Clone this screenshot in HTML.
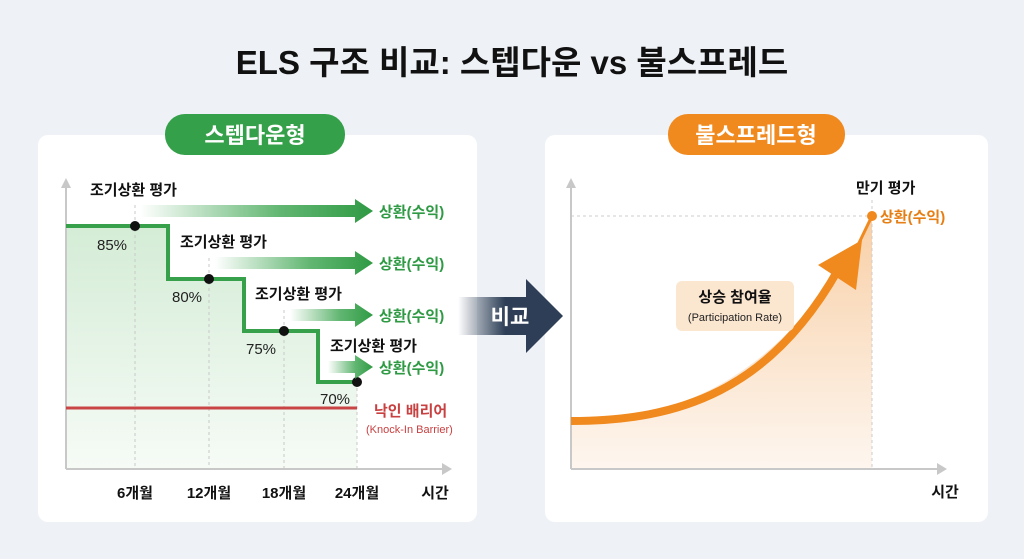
<!DOCTYPE html>
<html><head><meta charset="utf-8"><style>
html,body{margin:0;padding:0;background:#eef1f5;}
svg{display:block;font-family:"Liberation Sans","Noto Sans CJK KR",sans-serif;}
</style></head><body>
<svg width="1024" height="559" viewBox="0 0 1024 559" xmlns="http://www.w3.org/2000/svg">
<defs>
<linearGradient id="gfill" x1="0" y1="0" x2="0" y2="1"><stop offset="0" stop-color="#d4ecd6"/><stop offset="1" stop-color="#f6fbf6"/></linearGradient>
<linearGradient id="garr" x1="0" y1="0" x2="1" y2="0"><stop offset="0" stop-color="#3aa44e" stop-opacity="0"/><stop offset="0.6" stop-color="#3aa44e" stop-opacity="0.8"/><stop offset="1" stop-color="#2f9a44"/></linearGradient>
<linearGradient id="gnavy" x1="0" y1="0" x2="1" y2="0"><stop offset="0" stop-color="#2d3e56" stop-opacity="0"/><stop offset="0.45" stop-color="#2d3e56"/><stop offset="1" stop-color="#2d3e56"/></linearGradient>
<linearGradient id="gor" x1="0" y1="0" x2="0" y2="1"><stop offset="0" stop-color="#f6c08a"/><stop offset="1" stop-color="#fdf3ea"/></linearGradient>
</defs>
<rect width="1024" height="559" fill="#eef1f5"/>
<text x="512" y="74" text-anchor="middle" font-size="33" font-weight="bold" fill="#111">ELS 구조 비교: 스텝다운 vs 불스프레드</text>

<!-- left panel -->
<rect x="38" y="135" width="439" height="387" rx="10" fill="#fff"/>
<rect x="165" y="114" width="180" height="41" rx="20" fill="#35a04a"/>
<text x="255" y="143" text-anchor="middle" font-size="22" font-weight="bold" fill="#fff">스텝다운형</text>
<path d="M66 226 H168 V279 H244 V331 H318 V382 H357 V469 H66Z" fill="url(#gfill)"/>
<g stroke="#c8c8c8" stroke-dasharray="3 3" stroke-width="1">
<line x1="135" y1="205" x2="135" y2="469"/><line x1="209" y1="258" x2="209" y2="469"/><line x1="284" y1="310" x2="284" y2="469"/><line x1="357" y1="382" x2="357" y2="469"/></g>
<line x1="66" y1="469" x2="66" y2="183" stroke="#c8c8c8" stroke-width="2"/><path d="M61 188 L66 178 L71 188Z" fill="#c8c8c8"/>
<line x1="66" y1="469" x2="445" y2="469" stroke="#c8c8c8" stroke-width="2"/><path d="M442 463 L452 469 L442 475Z" fill="#c8c8c8"/>
<path d="M66 226 H168 V279 H244 V331 H318 V382 H357" fill="none" stroke="#36a04b" stroke-width="4"/>
<line x1="66" y1="408" x2="357" y2="408" stroke="#c94545" stroke-width="3"/>
<g fill="#111"><circle cx="135" cy="226" r="5"/><circle cx="209" cy="279" r="5"/><circle cx="284" cy="331" r="5"/><circle cx="357" cy="382" r="5"/></g>
<g fill="url(#garr)">
<path d="M140 205 H355 V199 L373 211 L355 223 V217 H140Z"/>
<path d="M215 257 H355 V251 L373 263 L355 275 V269 H215Z"/>
<path d="M290 309 H355 V303 L373 315 L355 327 V321 H290Z"/>
<path d="M328 361 H355 V355 L373 367 L355 379 V373 H328Z"/>
</g>
<g font-size="15" font-weight="bold" fill="#111">
<text x="90" y="195">조기상환 평가</text><text x="180" y="247">조기상환 평가</text><text x="255" y="299">조기상환 평가</text><text x="330" y="351">조기상환 평가</text></g>
<g font-size="15" fill="#222">
<text x="97" y="250">85%</text><text x="172" y="302">80%</text><text x="246" y="354">75%</text><text x="320" y="404">70%</text></g>
<g font-size="15" font-weight="bold" fill="#2f9a44">
<text x="379" y="217">상환(수익)</text><text x="379" y="269">상환(수익)</text><text x="379" y="321">상환(수익)</text><text x="379" y="373">상환(수익)</text></g>
<text x="374" y="416" font-size="15" font-weight="bold" fill="#c94040">낙인 배리어</text>
<text x="366" y="433" font-size="11" fill="#c94040">(Knock-In Barrier)</text>
<g font-size="15" font-weight="bold" fill="#111" text-anchor="middle">
<text x="135" y="498">6개월</text><text x="209" y="498">12개월</text><text x="284" y="498">18개월</text><text x="357" y="498">24개월</text><text x="435" y="498">시간</text></g>

<!-- right panel -->
<rect x="545" y="135" width="443" height="387" rx="10" fill="#fff"/>
<rect x="668" y="114" width="177" height="41" rx="20" fill="#f0891e"/>
<text x="756" y="143" text-anchor="middle" font-size="22" font-weight="bold" fill="#fff">불스프레드형</text>
<path d="M571 420 C680 420 770 380 858 245 L872 216 V469 H571Z" fill="url(#gor)" opacity="0.75"/>
<line x1="571" y1="216" x2="872" y2="216" stroke="#ccc" stroke-dasharray="3 3"/>
<line x1="872" y1="200" x2="872" y2="469" stroke="#ccc" stroke-dasharray="3 3"/>
<line x1="571" y1="469" x2="571" y2="183" stroke="#c8c8c8" stroke-width="2"/><path d="M566 188 L571 178 L576 188Z" fill="#c8c8c8"/>
<line x1="571" y1="469" x2="940" y2="469" stroke="#c8c8c8" stroke-width="2"/><path d="M937 463 L947 469 L937 475Z" fill="#c8c8c8"/>
<path d="M571 421 C680 421 770 390 838 270" fill="none" stroke="#f0891e" stroke-width="8"/>
<path d="M818 265 L862 240 L856 290Z" fill="#f0891e"/>
<line x1="858" y1="245" x2="872" y2="216" stroke="#f0891e" stroke-width="3"/>
<circle cx="872" cy="216" r="5" fill="#f0891e"/>
<text x="856" y="193" font-size="15" font-weight="bold" fill="#111">만기 평가</text>
<text x="880" y="222" font-size="15" font-weight="bold" fill="#e67e14">상환(수익)</text>
<rect x="676" y="281" width="118" height="50" rx="6" fill="#fbe6d0"/>
<text x="735" y="302" text-anchor="middle" font-size="15" font-weight="bold" fill="#111">상승 참여율</text>
<text x="735" y="321" text-anchor="middle" font-size="11" fill="#222">(Participation Rate)</text>
<text x="945" y="497" text-anchor="middle" font-size="15" font-weight="bold" fill="#111">시간</text>

<!-- compare arrow (on top) -->
<path d="M458 297 H526 V279 L563 316 L526 353 V335 H458Z" fill="url(#gnavy)"/>
<text x="510" y="324" text-anchor="middle" font-size="21" font-weight="bold" fill="#fff">비교</text>
</svg>
</body></html>
